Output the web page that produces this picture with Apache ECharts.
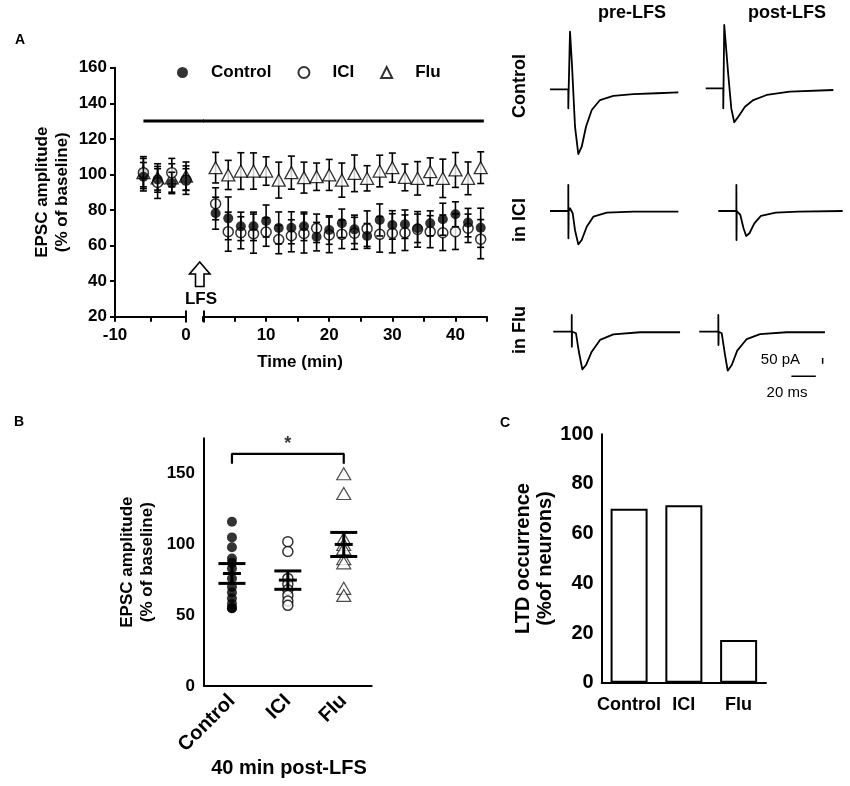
<!DOCTYPE html>
<html>
<head>
<meta charset="utf-8">
<title>EPSC LTD</title>
<script src="https://cdn.jsdelivr.net/npm/echarts@6/dist/echarts.min.js"></script>
</head>
<body style="margin:0;background:#fff;">
<div id="main" style="width:850px;height:786px;"></div>
<script>
var FONT = '"Liberation Sans", Arial, sans-serif';

// ---- A: time course, % of baseline ----
var timePre = [-6, -4, -2, 0];
var timePost = [2, 4, 6, 8, 10, 12, 14, 16, 18, 20, 22, 24, 26, 28, 30, 32, 34, 36, 38, 40, 42, 44];

var ctrlPre = [98.7, 97.2, 95.2, 97.2];
var ctrlPreSem = [8, 6, 6, 6];
var iciPre = [101, 95.5, 101, 96.8];
var iciPreSem = [8, 9, 8, 8];
var fluPre = [101, 98, 98, 99];
var fluPreSem = [9, 8, 8, 8];

var ctrlPost = [78.2, 75.3, 70.8, 70.8, 73.8, 69.9, 70, 70.8, 65, 68.7, 72.5, 69.1, 65.4, 74.4, 71.6, 72, 69.7, 72.5, 74.8, 77.6, 72.9, 70];
var ctrlPostSem = [9, 12, 8, 8, 9, 9, 9, 8, 8, 8, 8, 8, 7, 9, 8, 8, 8, 7, 9, 7, 8, 11];
var iciPost = [83.5, 67.8, 67.2, 66.7, 67.6, 63.4, 65.5, 66.8, 69.7, 66, 66.3, 66.9, 69.5, 66.3, 66.9, 67.2, 69.1, 67.8, 67.2, 67.8, 69.7, 63.6];
var iciPostSem = [9, 11, 9, 11, 8, 8, 9, 11, 8, 10, 8, 9, 10, 10, 11, 10, 10, 9, 10, 10, 8, 11];
var fluPost = [103.8, 99.7, 101.9, 101.9, 101.9, 96.8, 101, 98.2, 98.7, 99.7, 96.8, 100.6, 97.8, 101.9, 103.8, 98.3, 97.8, 101.5, 97.8, 102.5, 97.8, 103.8];
var fluPostSem = [8.6, 8.2, 10.3, 10.2, 8, 10.1, 9.3, 8.7, 7.7, 8.7, 9.6, 10.3, 7.1, 8.9, 8.2, 7.5, 9.4, 7.8, 10.8, 9.8, 9.2, 8.9];

// drug application bar
var drugBarLevel = 130;
var drugBarStart = -6;
var drugBarEnd = 44.5;

// ---- B: 40 min post-LFS ----
var groupsB = ['Control', 'ICI', 'Flu'];
var ctrlB = [116, 105, 98, 90, 87, 83, 76, 70, 66, 62, 58, 55, 55];
var iciB = [102, 95, 76, 72, 68, 64, 60, 57];
var fluB = [150, 136, 104, 100, 97, 90, 87, 69, 64];
var meanB = [79.5, 74.8, 100];
var semB = [7, 6.5, 8.5];
var bracketTop = 164;
var bracketLeg = 157;
var starLevel = 171;

// ---- C: LTD occurrence ----
var groupsC = ['Control', 'ICI', 'Flu'];
var ltdPct = [70, 71.4, 17.2];

// ---- example traces: [ms, pA] ----
var trCtrlPre = [[0,0],[15,0],[15,-168],[15.3,0],[16.4,510],[18,220],[20.5,-331],[23.2,-573],[26,-508],[29.5,-331],[34.2,-183],[41,-95],[51.9,-59],[68.3,-42],[87.5,-35],[105.2,-27]];
var trCtrlPost = [[0,0],[14.4,0],[14.4,-177],[14.6,0],[15.2,560],[18.5,120],[21,-180],[23.4,-301],[26.7,-251],[32.2,-163],[39,-104],[50,-59],[69,-30],[104.6,-15]];
var trIciPre = [[0,0],[15,0],[15,230],[15.1,-242],[15.3,0],[16.4,24],[18.6,-20],[20.5,-170],[23.2,-295],[26,-257],[30.1,-139],[35.5,-50],[46.5,-15],[68.3,-6],[105.2,-6]];
var trIciPost = [[0,0],[15.1,0],[15.1,230],[15.2,-257],[15.4,0],[16.4,15],[18.4,-35],[21,-150],[23.3,-221],[26,-197],[30.1,-109],[35.6,-44],[47.9,-15],[67,-6],[103.9,0]];
var trFluPre = [[0,0],[15.1,0],[15.1,148],[15.2,-133],[15.4,0],[16.4,15],[18.6,-14],[21,-180],[23.8,-333],[26.8,-295],[31.5,-177],[38.3,-73],[49.2,-23],[71.1,-5],[103.9,-5]];
var trFluPost = [[0,0],[15.6,0],[15.6,148],[15.7,-118],[15.9,0],[17,15],[18.4,-14],[21,-200],[23.3,-345],[26.6,-295],[31.1,-168],[38.9,-65],[49.8,-21],[71.6,-5],[103,-5]];
var scaleBarTime = [[75.5,-395],[95.5,-395]];   // 20 ms
var scaleBarAmp = [[101.1,-233],[101.1,-283]];  // 50 pA

var myChart = echarts.init(document.getElementById('main'));

function txt(size, weight) {
    return { fontFamily: FONT, fontSize: size, fontWeight: weight || 'bold', color: '#000' };
}

// vertical error bars, axis index = idx
function errorBars(idx, xs, ys, sems, z) {
    return {
        type: 'custom', xAxisIndex: idx, yAxisIndex: idx, z: z, silent: true,
        data: xs.map(function (x, i) { return [x, ys[i] - sems[i], ys[i] + sems[i]]; }),
        renderItem: function (params, api) {
            var lo = api.coord([api.value(0), api.value(1)]);
            var hi = api.coord([api.value(0), api.value(2)]);
            var w = 3.5, st = { stroke: '#000', lineWidth: 1.6 };
            return { type: 'group', children: [
                { type: 'line', shape: { x1: lo[0], y1: lo[1], x2: hi[0], y2: hi[1] }, style: st },
                { type: 'line', shape: { x1: lo[0] - w, y1: lo[1], x2: lo[0] + w, y2: lo[1] }, style: st },
                { type: 'line', shape: { x1: hi[0] - w, y1: hi[1], x2: hi[0] + w, y2: hi[1] }, style: st }
            ]};
        }
    };
}

function pts(xs, ys) { return xs.map(function (x, i) { return [x, ys[i]]; }); }

var symCtrl = { symbol: 'circle', symbolSize: 10, itemStyle: { color: '#000' } };
var symIci = { symbol: 'circle', symbolSize: 10, itemStyle: { color: '#fff', borderColor: '#000', borderWidth: 1.5 } };
var symFlu = { symbol: 'triangle', symbolSize: [13, 12], itemStyle: { color: '#fff', borderColor: '#000', borderWidth: 1.3 } };

function scatter(name, idx, data, sym, z) {
    return Object.assign({ type: 'scatter', name: name, xAxisIndex: idx, yAxisIndex: idx, data: data, z: z, clip: false }, sym);
}

var axLine = { onZero: false, lineStyle: { color: '#000', width: 2 } };
var axTick = { length: 5, lineStyle: { color: '#000', width: 2 } };

// trace panels (px boxes), same scale for all
var traceBoxes = [
    { left: 550, top: 21.5 }, { left: 705.7, top: 20.5 },
    { left: 550, top: 143.2 }, { left: 718.3, top: 143.2 },
    { left: 553.3, top: 263.9 }, { left: 699.3, top: 263.9 }
];
var traces = [trCtrlPre, trCtrlPost, trIciPre, trIciPost, trFluPre, trFluPost];

var grids = [
    { left: 115, top: 67.7, width: 71, height: 249 },
    { left: 203, top: 67.7, width: 284, height: 249 },
    { left: 204, top: 438.3, width: 167.7, height: 247.7 },
    { left: 601.7, top: 434.3, width: 164.3, height: 248.4 }
];
var xAxes = [
    { gridIndex: 0, type: 'value', min: -10, max: 0, interval: 5, axisLine: axLine, axisTick: axTick, splitLine: { show: false },
      axisLabel: Object.assign(txt(17), { margin: 10, formatter: function (v) { return v % 10 === 0 ? v : ''; } }) },
    { gridIndex: 1, type: 'value', min: 0, max: 45, interval: 5, axisLine: axLine, axisTick: axTick, splitLine: { show: false },
      axisLabel: Object.assign(txt(17), { margin: 10, formatter: function (v) { return (v % 10 === 0 && v > 0) ? v : ''; } }) },
    { gridIndex: 2, type: 'category', data: groupsB, axisLine: axLine, axisTick: { alignWithLabel: true, length: 6, lineStyle: { color: '#000', width: 2 } },
      axisLabel: Object.assign(txt(20), { rotate: 45, margin: 12, interval: 0 }) },
    { gridIndex: 3, type: 'category', data: groupsC, axisLine: axLine, axisTick: { alignWithLabel: true, length: 6, lineStyle: { color: '#000', width: 2 } },
      axisLabel: Object.assign(txt(18), { margin: 13, interval: 0 }) }
];
var yAxes = [
    { gridIndex: 0, type: 'value', min: 20, max: 160, interval: 20, axisLine: Object.assign({ show: true }, axLine), axisTick: axTick, splitLine: { show: false },
      axisLabel: Object.assign(txt(17), { margin: 8 }),
      name: 'EPSC amplitude\n(% of baseline)', nameLocation: 'middle', nameRotate: 90, nameGap: 43,
      nameTextStyle: Object.assign(txt(17), { lineHeight: 20 }) },
    { gridIndex: 1, type: 'value', min: 20, max: 160, show: false },
    { gridIndex: 2, type: 'value', min: 0, max: 175, interval: 25, axisLine: Object.assign({ show: true }, axLine), axisTick: axTick, splitLine: { show: false },
      axisLabel: Object.assign(txt(17), { margin: 9, formatter: function (v) { return v % 50 === 0 ? v : ''; } }),
      name: 'EPSC amplitude\n(% of baseline)', nameLocation: 'middle', nameRotate: 90, nameGap: 47,
      nameTextStyle: Object.assign(txt(17), { lineHeight: 20 }) },
    { gridIndex: 3, type: 'value', min: 0, max: 100, interval: 20, axisLine: Object.assign({ show: true }, axLine), axisTick: { length: 6, lineStyle: { color: '#000', width: 2 } }, splitLine: { show: false },
      axisLabel: Object.assign(txt(20), { margin: 8 }),
      name: 'LTD occurrence\n(%of neurons)', nameLocation: 'middle', nameRotate: 90, nameGap: 32,
      nameTextStyle: Object.assign(txt(20), { lineHeight: 22 }) }
];

traceBoxes.forEach(function (b, i) {
    grids.push({ left: b.left, top: b.top, width: 134.2, height: 135.6 });
    xAxes.push({ gridIndex: 4 + i, type: 'value', min: 0, max: 110, show: false });
    yAxes.push({ gridIndex: 4 + i, type: 'value', min: -600, max: 600, show: false });
});

var series = [
    // drug bar: drawn from the pre-LFS axis, running across the break
    { type: 'custom', xAxisIndex: 0, yAxisIndex: 0, silent: true, clip: false, z: 1,
      data: [[drugBarStart, drugBarLevel]],
      renderItem: function (params, api) {
          var a = api.coord([api.value(0), api.value(1)]);
          var b = api.coord([0, api.value(1)]);
          return { type: 'line', shape: { x1: a[0], y1: a[1], x2: b[0] + 18, y2: b[1] }, style: { stroke: '#000', lineWidth: 3 } };
      } },
    { type: 'line', xAxisIndex: 1, yAxisIndex: 1, data: [[0, drugBarLevel], [drugBarEnd, drugBarLevel]], showSymbol: false, clip: false, lineStyle: { color: '#000', width: 3 }, silent: true },

    errorBars(0, timePre, fluPre, fluPreSem, 2), scatter('Flu', 0, pts(timePre, fluPre), symFlu, 3),
    errorBars(1, timePost, fluPost, fluPostSem, 2), scatter('Flu', 1, pts(timePost, fluPost), symFlu, 3),
    errorBars(0, timePre, iciPre, iciPreSem, 4), scatter('ICI', 0, pts(timePre, iciPre), symIci, 5),
    errorBars(1, timePost, iciPost, iciPostSem, 4), scatter('ICI', 1, pts(timePost, iciPost), symIci, 5),
    errorBars(0, timePre, ctrlPre, ctrlPreSem, 6), scatter('Control', 0, pts(timePre, ctrlPre), symCtrl, 7),
    errorBars(1, timePost, ctrlPost, ctrlPostSem, 6), scatter('Control', 1, pts(timePost, ctrlPost), symCtrl, 7),

    // B
    scatter('bCtrl', 2, ctrlB.map(function (v) { return [0, v]; }), symCtrl, 3),
    scatter('bIci', 2, iciB.map(function (v) { return [1, v]; }), symIci, 3),
    scatter('bFlu', 2, fluB.map(function (v) { return [2, v]; }), { symbol: 'triangle', symbolSize: [14, 12], itemStyle: { color: '#fff', borderColor: '#222', borderWidth: 1.2 } }, 3),
    {
        type: 'custom', xAxisIndex: 2, yAxisIndex: 2, z: 6, silent: true,
        data: meanB.map(function (m, i) { return [i, m, semB[i]]; }),
        renderItem: function (params, api) {
            var c = api.coord([api.value(0), api.value(1)]);
            var hi = api.coord([api.value(0), api.value(1) + api.value(2)]);
            var lo = api.coord([api.value(0), api.value(1) - api.value(2)]);
            var st = { stroke: '#000', lineWidth: 3 };
            return { type: 'group', children: [
                { type: 'line', shape: { x1: c[0], y1: hi[1], x2: c[0], y2: lo[1] }, style: st },
                { type: 'line', shape: { x1: c[0] - 13.5, y1: hi[1], x2: c[0] + 13.5, y2: hi[1] }, style: st },
                { type: 'line', shape: { x1: c[0] - 13.5, y1: lo[1], x2: c[0] + 13.5, y2: lo[1] }, style: st },
                { type: 'line', shape: { x1: c[0] - 9, y1: c[1], x2: c[0] + 9, y2: c[1] }, style: st }
            ]};
        }
    },
    { type: 'line', xAxisIndex: 2, yAxisIndex: 2, data: [[0, bracketLeg], [0, bracketTop], [2, bracketTop], [2, bracketLeg]], showSymbol: false, clip: false, lineStyle: { color: '#000', width: 2.2 }, silent: true },
    { type: 'scatter', xAxisIndex: 2, yAxisIndex: 2, data: [[1, starLevel]], symbolSize: 0, silent: true,
      label: { show: true, position: 'inside', formatter: '*', fontFamily: FONT, fontSize: 18, fontWeight: 'bold', color: '#000' } },

    // C
    { type: 'bar', xAxisIndex: 3, yAxisIndex: 3, data: ltdPct, barWidth: 37, silent: true,
      itemStyle: { color: '#fff', borderColor: '#000', borderWidth: 2 } }
];

traces.forEach(function (tr, i) {
    series.push({ type: 'line', xAxisIndex: 4 + i, yAxisIndex: 4 + i, data: tr, showSymbol: false, clip: false, silent: true, z: 10,
        lineStyle: { color: '#000', width: 1.8, join: 'round' } });
});
series.push({ type: 'line', xAxisIndex: 9, yAxisIndex: 9, data: scaleBarTime, showSymbol: false, clip: false, silent: true, lineStyle: { color: '#000', width: 1.5 } });
series.push({ type: 'line', xAxisIndex: 9, yAxisIndex: 9, data: scaleBarAmp, showSymbol: false, clip: false, silent: true, lineStyle: { color: '#000', width: 1.5 } });

function label(text, x, y, size, extra) {
    return Object.assign({ type: 'text', x: x, y: y, style: Object.assign({ text: text, font: 'bold ' + size + 'px ' + FONT, fill: '#000', align: 'center', verticalAlign: 'middle' }, extra || {}) });
}
function vlabel(text, x, y, size) {
    var g = label(text, x, y, size);
    g.rotation = Math.PI / 2;
    return g;
}

var graphics = [
    label('A', 20, 40, 14), label('B', 19, 422, 14), label('C', 505, 423, 14),
    label('Time (min)', 300, 362, 17),
    label('LFS', 201, 299, 17),
    { type: 'polygon', shape: { points: [[199.7, 262], [189.5, 274], [195.5, 274], [195.5, 286.5], [204, 286.5], [204, 274], [210, 274]] },
      style: { fill: '#fff', stroke: '#000', lineWidth: 1.6 } },
    { type: 'line', shape: { x1: 186, y1: 310.5, x2: 186, y2: 322.5 }, style: { stroke: '#000', lineWidth: 2 } },
    { type: 'line', shape: { x1: 204, y1: 310.5, x2: 204, y2: 322.5 }, style: { stroke: '#000', lineWidth: 2 } },
    label('pre-LFS', 632, 13, 18), label('post-LFS', 787, 13, 18),
    vlabel('Control', 520, 86, 18), vlabel('in ICI', 520, 220, 18), vlabel('in Flu', 520, 330, 18),
    { type: 'text', x: 800, y: 360, style: { text: '50 pA', font: '15px ' + FONT, fill: '#000', align: 'right', verticalAlign: 'middle' } },
    { type: 'text', x: 787, y: 393, style: { text: '20 ms', font: '15px ' + FONT, fill: '#000', align: 'center', verticalAlign: 'middle' } },
    label('40 min post-LFS', 289, 768, 20)
];

var option = {
    animation: false,
    backgroundColor: '#fff',
    textStyle: { fontFamily: FONT },
    legend: {
        left: 177, top: 64, padding: 0, itemWidth: 11, itemHeight: 11, itemGap: 26, selectedMode: false,
        data: ['Control', 'ICI', 'Flu'],
        textStyle: Object.assign(txt(17), { padding: [0, 0, 0, 18] })
    },
    grid: grids,
    xAxis: xAxes,
    yAxis: yAxes,
    series: series,
    graphic: graphics
};
myChart.setOption(option);
</script>
</body>
</html>
